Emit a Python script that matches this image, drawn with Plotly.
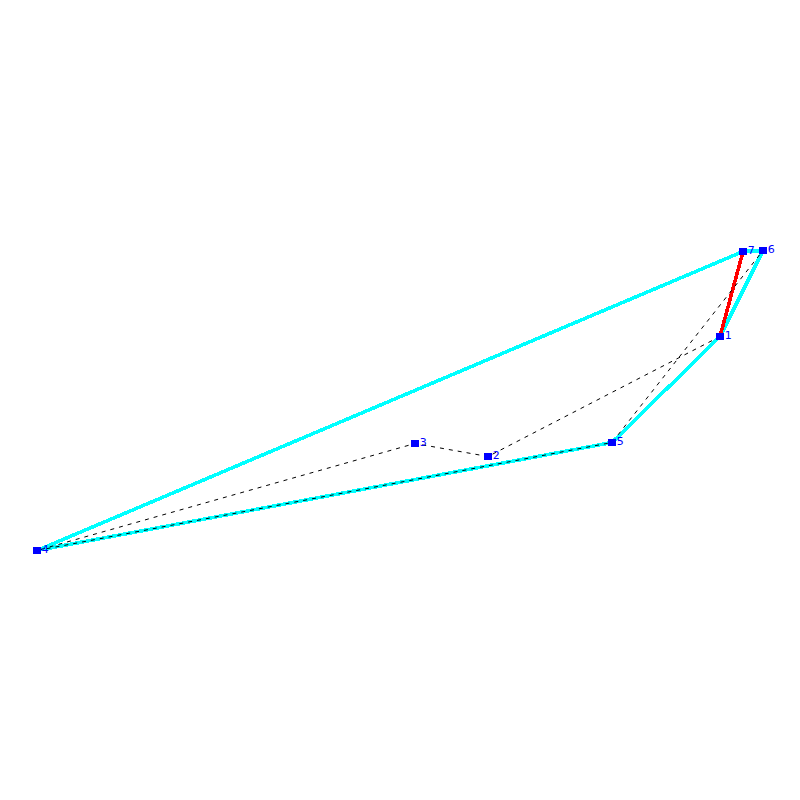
import plotly.graph_objects as go

# Node positions
node_labels = ["1", "2", "3", "4", "5", "6", "7"]
node_x = [720, 488, 415, 37, 612, 763, 743]
node_y = [336.5, 456.5, 443.5, 550.5, 442.5, 250.5, 251.5]

# Edges as node numbers
hull_order = [7, 4, 5, 1, 6, 7]
dashed_order = [1, 2, 3, 4, 5, 6]
red_order = [1, 7]


def xs(order):
    return [node_x[i - 1] for i in order]


def ys(order):
    return [node_y[i - 1] for i in order]


fig = go.Figure()
fig.add_trace(go.Scatter(x=xs(hull_order), y=ys(hull_order), mode="lines",
                         line=dict(color="#00ffff", width=3.6), hoverinfo="skip"))
fig.add_trace(go.Scatter(x=xs(red_order), y=ys(red_order), mode="lines",
                         line=dict(color="#ff0000", width=3.6), hoverinfo="skip"))
fig.add_trace(go.Scatter(x=xs(dashed_order), y=ys(dashed_order), mode="lines",
                         line=dict(color="#000000", width=1, dash="4px,5px"), hoverinfo="skip"))
fig.add_trace(go.Scatter(x=node_x, y=node_y, mode="markers",
                         marker=dict(symbol="square", size=7.5, color="#0000ff", line=dict(width=0))))
fig.add_trace(go.Scatter(x=node_x, y=node_y, mode="markers+text", text=node_labels,
                         textposition="middle right",
                         textfont=dict(family="DejaVu Sans", size=11, color="#0000ff"),
                         marker=dict(size=6, opacity=0), hoverinfo="skip"))

fig.update_layout(
    width=800, height=800, margin=dict(l=0, r=0, t=0, b=0),
    paper_bgcolor="white", plot_bgcolor="white", showlegend=False,
    xaxis=dict(range=[0, 800], visible=False),
    yaxis=dict(range=[800, 0], visible=False),
)
fig.write_html("out.html", config={"displayModeBar": False},
               post_script="document.body.style.margin='0';document.body.style.overflow='hidden';"
                           "document.querySelectorAll('.scatterlayer path').forEach(function(p){"
                           "var d=p.style.strokeDasharray;"
                           "if(!d||d==='none'||d==='0px, 0px'){p.style.shapeRendering='crispEdges';}});")
